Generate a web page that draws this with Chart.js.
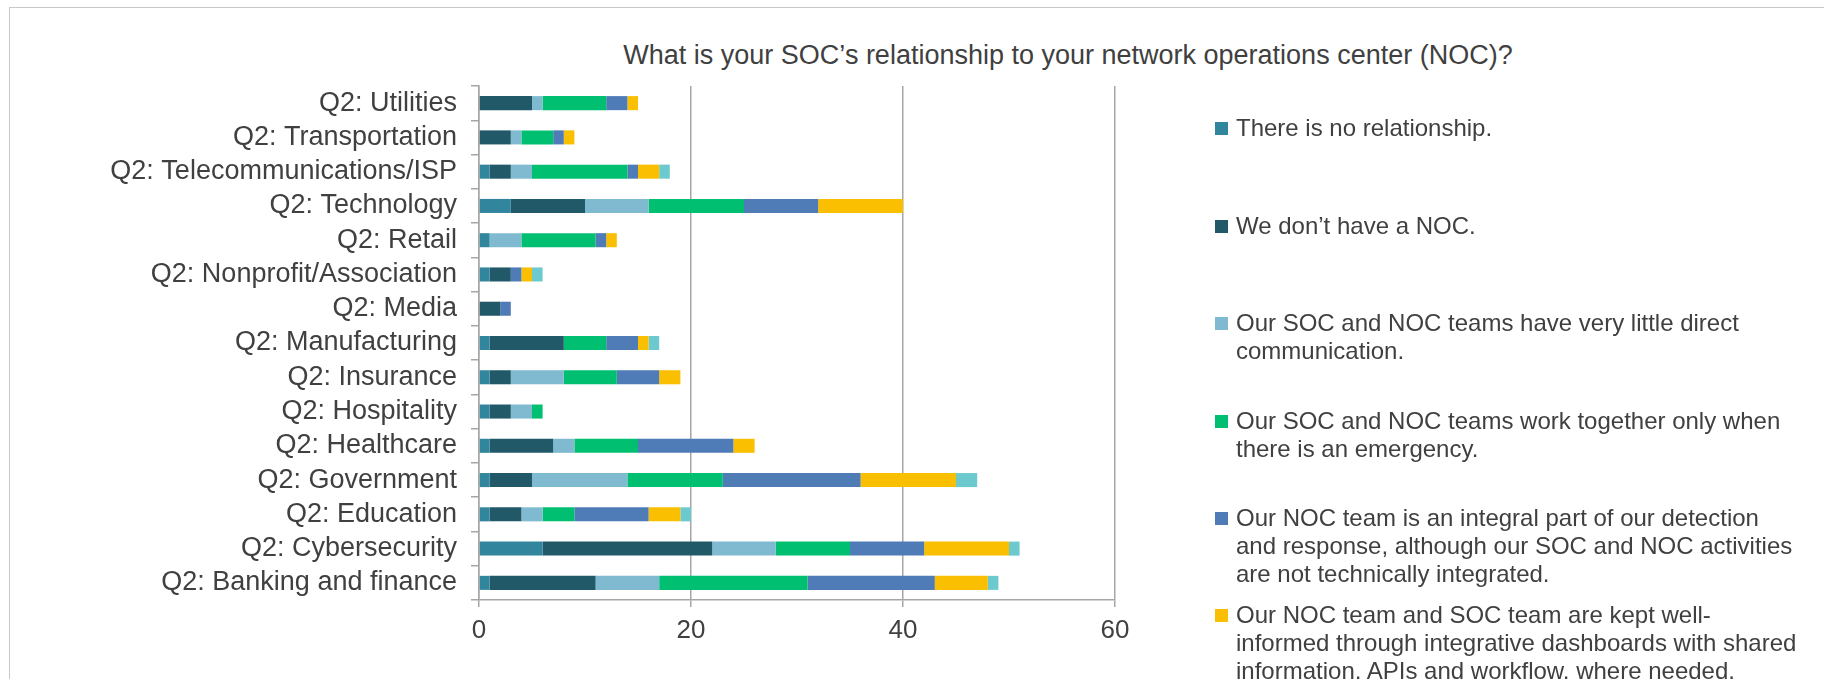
<!DOCTYPE html>
<html>
<head>
<meta charset="utf-8">
<script src="https://cdn.jsdelivr.net/npm/chart.js@4.4.1/dist/chart.umd.min.js"></script>
<style>
    html, body {
        margin: 0;
        padding: 0;
        background: #ffffff;
        overflow: hidden;
    }
    body {
        width: 1824px;
        height: 679px;
        position: relative;
        font-family: "Liberation Sans", Arial, sans-serif;
        color: #404040;
    }
    #frame {
        position: absolute;
        left: 9px;
        top: 7px;
        width: 1830px;
        height: 700px;
        border-left: 1.5px solid #c8c8c8;
        border-top: 1.5px solid #c8c8c8;
    }
    #title {
        position: absolute;
        left: 568px;
        width: 1000px;
        top: 39px;
        text-align: center;
        font-size: 27px;
        line-height: 32px;
        white-space: nowrap;
    }
    #chartWrap {
        position: absolute;
        left: 0;
        top: 0;
        width: 1824px;
        height: 679px;
    }
    #legend {
        position: absolute;
        left: 0;
        top: 0;
    }
    .legend-item {
        position: absolute;
        left: 1236px;
        font-size: 24px;
        line-height: 28px;
        white-space: nowrap;
    }
    .legend-box {
        position: absolute;
        left: -21px;
        top: 8px;
        width: 13px;
        height: 13px;
    }
</style>
</head>
<body>
<div id="frame"></div>
<div id="title">What is your SOC’s relationship to your network operations center (NOC)?</div>
<div id="chartWrap"><canvas id="barChart" width="1824" height="679"></canvas></div>
<div id="legend"></div>

<script>
// industries, top to bottom
var categories = [
    "Q2: Utilities",
    "Q2: Transportation",
    "Q2: Telecommunications/ISP",
    "Q2: Technology",
    "Q2: Retail",
    "Q2: Nonprofit/Association",
    "Q2: Media",
    "Q2: Manufacturing",
    "Q2: Insurance",
    "Q2: Hospitality",
    "Q2: Healthcare",
    "Q2: Government",
    "Q2: Education",
    "Q2: Cybersecurity",
    "Q2: Banking and finance"
];

// answer counts per industry
var noRelationship = [0, 0, 1, 3, 1, 1, 0, 1, 1, 1, 1, 1, 1, 6, 1];
var noNoc          = [5, 3, 2, 7, 0, 2, 2, 7, 2, 2, 6, 4, 3, 16, 10];
var littleComm     = [1, 1, 2, 6, 3, 0, 0, 0, 5, 2, 2, 9, 2, 6, 6];
var emergencyOnly  = [6, 3, 9, 9, 7, 0, 0, 4, 5, 1, 6, 9, 3, 7, 14];
var integralPart   = [2, 1, 1, 7, 1, 1, 1, 3, 4, 0, 9, 13, 7, 7, 12];
var dashboards     = [1, 1, 2, 8, 1, 1, 0, 1, 2, 0, 2, 9, 3, 8, 5];
var otherAnswer    = [0, 0, 1, 0, 0, 1, 0, 1, 0, 0, 0, 2, 1, 1, 1];

var xTicks = [0, 20, 40, 60];

var color = {
    teal: '#31859c',
    navy: '#215968',
    lightBlue: '#7fbad0',
    green: '#00bf70',
    blue: '#4f7bb6',
    yellow: '#f9bf00',
    cyan: '#6ccacf'
};

var series = [
    {label: 'There is no relationship.', data: noRelationship, color: color.teal,
        lines: ['There is no relationship.']},
    {label: 'We don’t have a NOC.', data: noNoc, color: color.navy,
        lines: ['We don’t have a NOC.']},
    {label: 'Our SOC and NOC teams have very little direct communication.', data: littleComm, color: color.lightBlue,
        lines: ['Our SOC and NOC teams have very little direct', 'communication.']},
    {label: 'Our SOC and NOC teams work together only when there is an emergency.', data: emergencyOnly, color: color.green,
        lines: ['Our SOC and NOC teams work together only when', 'there is an emergency.']},
    {label: 'Our NOC team is an integral part of our detection and response, although our SOC and NOC activities are not technically integrated.', data: integralPart, color: color.blue,
        lines: ['Our NOC team is an integral part of our detection', 'and response, although our SOC and NOC activities', 'are not technically integrated.']},
    {label: 'Our NOC team and SOC team are kept well-informed through integrative dashboards with shared information, APIs and workflow, where needed.', data: dashboards, color: color.yellow,
        lines: ['Our NOC team and SOC team are kept well-', 'informed through integrative dashboards with shared', 'information, APIs and workflow, where needed.']},
    {label: 'Other', data: otherAnswer, color: color.cyan, lines: null}
];

var datasets = series.map(function (s) {
    return {
        label: s.label,
        data: s.data,
        backgroundColor: s.color,
        borderWidth: 0,
        barPercentage: 0.41,
        categoryPercentage: 1.0
    };
});

// legend on the right, fixed spacing between entries
var legendTops = [114, 212, 309, 407, 504, 601];
var legend = document.getElementById('legend');
series.forEach(function (s, i) {
    if (!s.lines) return;
    var item = document.createElement('div');
    item.className = 'legend-item';
    item.style.top = legendTops[i] + 'px';
    var box = document.createElement('div');
    box.className = 'legend-box';
    box.style.background = s.color;
    item.appendChild(box);
    item.appendChild(document.createTextNode(s.lines[0]));
    for (var k = 1; k < s.lines.length; k++) {
        item.appendChild(document.createElement('br'));
        item.appendChild(document.createTextNode(s.lines[k]));
    }
    legend.appendChild(item);
});

var axisColor = '#a6a6a6';
var labelFont = {family: '"Liberation Sans", Arial, sans-serif', size: 27};
var tickFont = {family: '"Liberation Sans", Arial, sans-serif', size: 26};

var ctx = document.getElementById('barChart');
if (ctx != null) {
    window.myBar = new Chart(ctx, {
        type: 'bar',
        data: {
            labels: categories,
            datasets: datasets
        },
        options: {
            indexAxis: 'y',
            responsive: false,
            animation: false,
            events: [],
            layout: {
                padding: {left: 0, top: 86, right: 709, bottom: 0}
            },
            plugins: {
                legend: {display: false},
                title: {display: false},
                tooltip: {enabled: false}
            },
            scales: {
                x: {
                    stacked: true,
                    min: 0,
                    max: 60,
                    afterFit: function (scale) {
                        scale.height = 79;
                    },
                    afterBuildTicks: function (scale) {
                        scale.ticks = xTicks.map(function (v) { return {value: v}; });
                    },
                    grid: {
                        color: axisColor,
                        lineWidth: 1.5,
                        tickLength: 7,
                        drawTicks: true
                    },
                    border: {display: true, color: axisColor, width: 1.5},
                    ticks: {
                        color: '#404040',
                        font: tickFont,
                        padding: 8
                    }
                },
                y: {
                    stacked: true,
                    afterFit: function (scale) {
                        scale.width = 479;
                    },
                    grid: {
                        offset: true,
                        drawOnChartArea: false,
                        color: axisColor,
                        lineWidth: 1.5,
                        tickLength: 8
                    },
                    border: {display: true, color: axisColor, width: 1.5},
                    ticks: {
                        color: '#404040',
                        font: labelFont,
                        padding: 14,
                        autoSkip: false
                    }
                }
            }
        }
    });
}
</script>
</body>
</html>
